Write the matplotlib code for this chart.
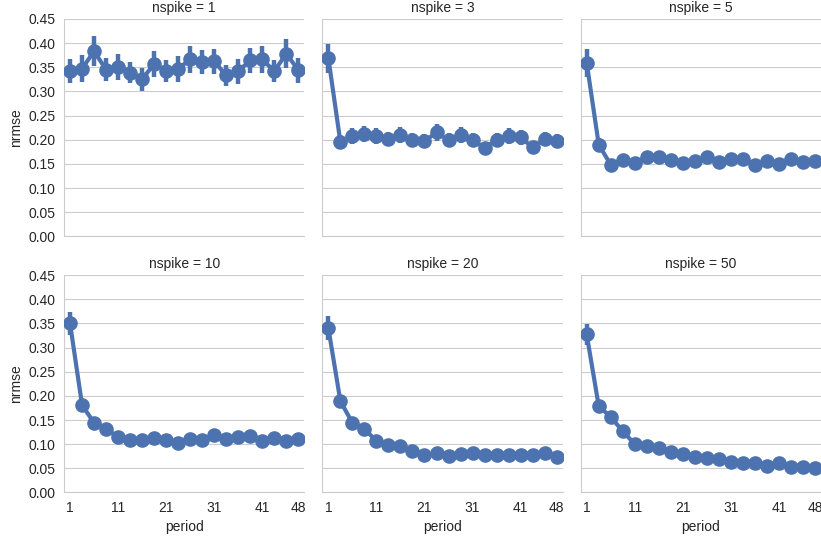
import matplotlib
matplotlib.use("Agg")
import matplotlib.pyplot as plt
import numpy as np
import seaborn as sns

# period categories on the x axis, only some of them get a label
period = [1, 3, 6, 8, 11, 13, 16, 18, 21, 23, 26, 28, 31, 33, 36, 38, 41, 43, 46, 48]
shown_periods = [1, 11, 21, 31, 41, 48]

nspike = [1, 3, 5, 10, 20, 50]

# mean nrmse per period, one list per nspike
nrmse_1 = [0.342, 0.347, 0.383, 0.345, 0.350, 0.339, 0.325, 0.357, 0.342, 0.347,
           0.366, 0.360, 0.362, 0.333, 0.342, 0.364, 0.366, 0.342, 0.378, 0.344]
nrmse_3 = [0.369, 0.195, 0.208, 0.212, 0.208, 0.201, 0.210, 0.199, 0.197, 0.215,
           0.199, 0.210, 0.199, 0.183, 0.200, 0.208, 0.205, 0.184, 0.201, 0.197]
nrmse_5 = [0.359, 0.190, 0.148, 0.158, 0.151, 0.164, 0.164, 0.158, 0.151, 0.155,
           0.164, 0.153, 0.160, 0.160, 0.148, 0.155, 0.150, 0.160, 0.153, 0.155]
nrmse_10 = [0.350, 0.181, 0.144, 0.131, 0.115, 0.108, 0.108, 0.113, 0.109, 0.103,
            0.111, 0.108, 0.119, 0.110, 0.115, 0.117, 0.106, 0.113, 0.106, 0.111]
nrmse_20 = [0.340, 0.189, 0.144, 0.131, 0.107, 0.099, 0.097, 0.085, 0.078, 0.081,
            0.076, 0.079, 0.081, 0.078, 0.078, 0.078, 0.078, 0.078, 0.081, 0.074]
nrmse_50 = [0.327, 0.179, 0.156, 0.127, 0.100, 0.097, 0.093, 0.084, 0.079, 0.074,
            0.071, 0.069, 0.063, 0.060, 0.060, 0.055, 0.060, 0.053, 0.053, 0.051]

# half width of the confidence interval bars
ci_1 = [0.024, 0.028, 0.031, 0.024, 0.027, 0.022, 0.024, 0.027, 0.022, 0.027,
        0.027, 0.025, 0.026, 0.021, 0.026, 0.026, 0.028, 0.023, 0.030, 0.026]
ci_3 = [0.030, 0.014, 0.016, 0.016, 0.016, 0.015, 0.016, 0.015, 0.015, 0.017,
        0.015, 0.016, 0.015, 0.012, 0.014, 0.016, 0.016, 0.013, 0.015, 0.014]
ci_5 = [0.029, 0.014, 0.009, 0.012, 0.010, 0.011, 0.011, 0.011, 0.010, 0.011,
        0.012, 0.010, 0.011, 0.011, 0.009, 0.010, 0.009, 0.011, 0.010, 0.010]
ci_10 = [0.024, 0.010, 0.008, 0.008, 0.007, 0.006, 0.006, 0.007, 0.006, 0.006,
         0.006, 0.006, 0.007, 0.006, 0.006, 0.007, 0.006, 0.006, 0.006, 0.006]
ci_20 = [0.025, 0.011, 0.008, 0.007, 0.006, 0.006, 0.006, 0.005, 0.005, 0.005,
         0.005, 0.005, 0.005, 0.005, 0.005, 0.005, 0.005, 0.005, 0.005, 0.005]
ci_50 = [0.022, 0.010, 0.008, 0.007, 0.006, 0.006, 0.005, 0.005, 0.005, 0.005,
         0.005, 0.005, 0.004, 0.004, 0.004, 0.004, 0.004, 0.004, 0.004, 0.004]

series = [nrmse_1, nrmse_3, nrmse_5, nrmse_10, nrmse_20, nrmse_50]
cis = [ci_1, ci_3, ci_5, ci_10, ci_20, ci_50]

sns.set_style("whitegrid")
plt.rcParams['font.family'] = ['Liberation Sans', 'DejaVu Sans']
plt.rcParams['font.size'] = 10

color = "#4C72B0"

fig, axes = plt.subplots(2, 3, figsize=(8.21, 5.40), dpi=100, sharex=True, sharey=True)
fig.subplots_adjust(left=0.078, right=1.0, bottom=0.088, top=0.965, wspace=0.075, hspace=0.178)

x = np.arange(len(period))
tick_locs = [period.index(p) for p in shown_periods]

for i, ax in enumerate(axes.flat):
    y = np.array(series[i])
    ci = np.array(cis[i])
    ax.vlines(x, y - ci, y + ci, color=color, linewidth=3.2, zorder=2)
    ax.plot(x, y, color=color, linewidth=3.0, zorder=3)
    ax.plot(x, y, linestyle="none", marker="o", markersize=9.5, color=color, zorder=4)

    ax.set_xlim(-0.5, len(period) - 0.5)
    ax.set_ylim(0, 0.45)
    ax.set_yticks(np.arange(0, 0.451, 0.05))
    ax.set_xticks(tick_locs)
    ax.set_xticklabels([str(p) for p in shown_periods])
    ax.xaxis.grid(False)
    ax.tick_params(length=0, labelsize=10, pad=6, colors=".15")
    ax.set_title("nspike = %d" % nspike[i], fontsize=10, pad=5, color=".15")
    for side in ["top", "right"]:
        ax.spines[side].set_visible(False)
    for side in ["left", "bottom"]:
        ax.spines[side].set_color(".8")
    if i % 3 == 0:
        ax.set_ylabel("nrmse", fontsize=10, color=".15")
        ax.yaxis.set_major_formatter(matplotlib.ticker.FormatStrFormatter("%.2f"))
    if i >= 3:
        ax.set_xlabel("period", fontsize=10, color=".15")

plt.savefig("out.png", dpi=100)
